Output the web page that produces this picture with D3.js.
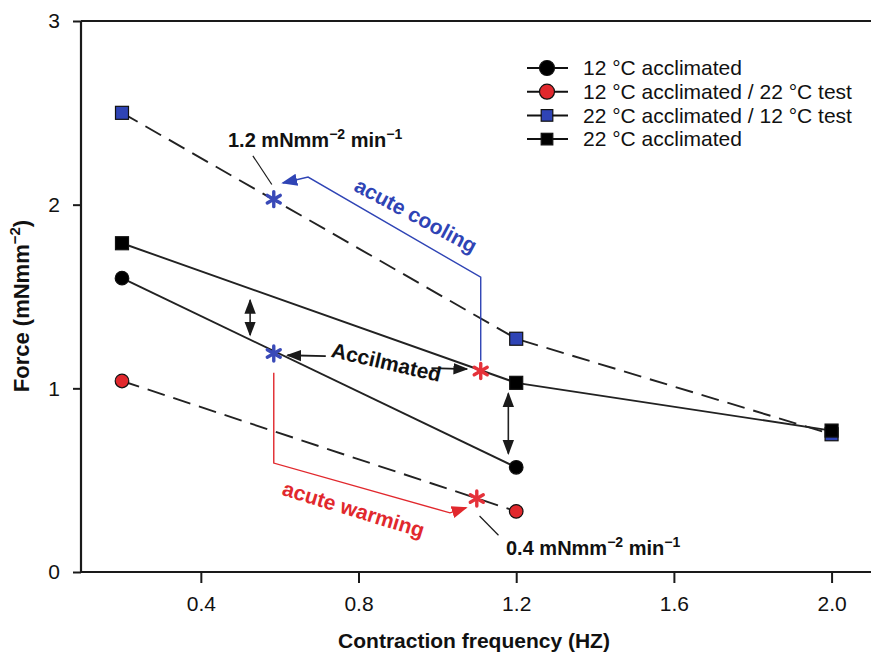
<!DOCTYPE html>
<html>
<head>
<meta charset="utf-8">
<script src="https://cdn.jsdelivr.net/npm/d3@7"></script>
<style>
  html, body { margin: 0; padding: 0; background: #fff; }
  svg { display: block; }
  text { font-family: "Liberation Sans", Arial, Helvetica, sans-serif; }
</style>
</head>
<body>
<svg id="chart" width="871" height="652"></svg>
<script>
// Contraction frequencies (Hz)
const freq = [0.2, 1.2, 2.0];

// Force (mN mm^-2) for each treatment group
const seriesNames = [
  "12 °C acclimated",
  "12 °C acclimated / 22 °C test",
  "22 °C acclimated / 12 °C test",
  "22 °C acclimated"
];
const accl12 = [1.60, 0.57];
const accl12test22 = [1.04, 0.33];
const accl22test12 = [2.50, 1.27, 0.75];
const accl22 = [1.79, 1.03, 0.77];

// Interpolated force at the rate comparison points (asterisks)
const starFreq = [0.585, 0.585, 1.11, 1.10];
const starForce = [2.03, 1.19, 1.094, 0.40];
const starColor = ["blue", "blue", "red", "red"];

// Axis ticks
const xTicks = [0.4, 0.8, 1.2, 1.6, 2.0];
const yTicks = [0, 1, 2, 3];

const BLUE = "#2f44b5";
const RED = "#e1282d";
const INK = "#1a1a1a";

const svg = d3.select("#chart");
const x = d3.scaleLinear().domain([0.096, 2.1]).range([81, 871]);
const y = d3.scaleLinear().domain([0, 3]).range([572, 21]);

// markers for arrows
const defs = svg.append("defs");
function arrowMarker(id, color, size) {
  defs.append("marker")
    .attr("id", id)
    .attr("viewBox", "0 0 10 10")
    .attr("refX", 9).attr("refY", 5)
    .attr("markerWidth", size).attr("markerHeight", size)
    .attr("markerUnits", "userSpaceOnUse")
    .attr("orient", "auto-start-reverse")
    .append("path")
    .attr("d", "M0,1.2 L10,5 L0,8.8 Z")
    .attr("fill", color);
}
arrowMarker("ah-black", INK, 15);
arrowMarker("ah-blue", BLUE, 16);
arrowMarker("ah-red", RED, 16);

// frame: top rule, left axis, bottom axis
svg.append("line").attr("x1", 81).attr("x2", 871).attr("y1", y(3)).attr("y2", y(3))
  .attr("stroke", INK).attr("stroke-width", 2.2);

const xAxis = svg.append("g").attr("transform", `translate(0,${y(0)})`)
  .call(d3.axisBottom(x).tickValues(xTicks).tickFormat(d3.format(".1f")).tickSize(11).tickPadding(13));
xAxis.select(".domain").attr("stroke", INK).attr("stroke-width", 2.2).attr("d", `M81,0H871`);
xAxis.selectAll(".tick line").attr("stroke", INK).attr("stroke-width", 2);
xAxis.selectAll(".tick text").attr("font-size", 21).attr("fill", "#111")
  .attr("font-family", "'Liberation Sans', Arial, sans-serif");

const yAxis = svg.append("g").attr("transform", `translate(81,0)`)
  .call(d3.axisLeft(y).tickValues(yTicks).tickFormat(d3.format("d")).tickSize(8).tickPadding(13));
yAxis.select(".domain").attr("stroke", INK).attr("stroke-width", 2.2).attr("d", `M0,${y(3)}V${y(0)}`);
yAxis.selectAll(".tick line").attr("stroke", INK).attr("stroke-width", 2);
yAxis.selectAll(".tick text").attr("font-size", 21).attr("fill", "#111")
  .attr("font-family", "'Liberation Sans', Arial, sans-serif");

// axis titles
svg.append("text")
  .attr("x", 474).attr("y", 648).attr("text-anchor", "middle")
  .attr("font-size", 21).attr("font-weight", "bold").attr("fill", "#111")
  .text("Contraction frequency (HZ)");

const yTitle = svg.append("text")
  .attr("transform", "translate(29,306) rotate(-90)")
  .attr("text-anchor", "middle")
  .attr("font-size", 22).attr("font-weight", "bold").attr("fill", "#111");
yTitle.append("tspan").text("Force (mNmm");
yTitle.append("tspan").attr("font-size", 15).attr("dy", -9).text("−2");
yTitle.append("tspan").attr("dy", 9).text(")");

// series lines
const line = d3.line().x(d => x(d[0])).y(d => y(d[1]));
const series = [
  { vals: accl12, dash: null, shape: "circle", fill: "#000" },
  { vals: accl12test22, dash: "18,9", shape: "circle", fill: RED },
  { vals: accl22test12, dash: "18,9", shape: "square", fill: BLUE },
  { vals: accl22, dash: null, shape: "square", fill: "#000" }
];
series.forEach(s => {
  const pts = s.vals.map((v, i) => [freq[i], v]);
  svg.append("path").datum(pts)
    .attr("d", line).attr("fill", "none")
    .attr("stroke", "#222").attr("stroke-width", 1.9)
    .attr("stroke-dasharray", s.dash);
});

// double-headed comparison arrows
const dbl = [[0.525, 1.48, 1.29], [1.18, 0.972, 0.645]];
dbl.forEach(d => {
  svg.append("line")
    .attr("x1", x(d[0])).attr("x2", x(d[0]))
    .attr("y1", y(d[1])).attr("y2", y(d[2]))
    .attr("stroke", "#222").attr("stroke-width", 1.6)
    .attr("marker-start", "url(#ah-black)").attr("marker-end", "url(#ah-black)");
});

// acute cooling path (red asterisk -> blue asterisk)
const coolPath = [[1.11, 1.15], [1.11, 1.605], [0.672, 2.15], [0.608, 2.118]];
svg.append("path").datum(coolPath)
  .attr("d", line).attr("fill", "none").attr("stroke", BLUE).attr("stroke-width", 1.4)
  .attr("marker-end", "url(#ah-blue)");

// acute warming path (blue asterisk -> red asterisk)
const warmPath = [[0.585, 1.085], [0.585, 0.593], [1.032, 0.322], [1.073, 0.35]];
svg.append("path").datum(warmPath)
  .attr("d", line).attr("fill", "none").attr("stroke", RED).attr("stroke-width", 1.4)
  .attr("marker-end", "url(#ah-red)");

// "Accilmated" pointer arrows
svg.append("line")
  .attr("x1", x(0.717)).attr("y1", y(1.175)).attr("x2", x(0.62)).attr("y2", y(1.18))
  .attr("stroke", INK).attr("stroke-width", 1.8).attr("marker-end", "url(#ah-black)");
svg.append("line")
  .attr("x1", x(0.985)).attr("y1", y(1.11)).attr("x2", x(1.075)).attr("y2", y(1.105))
  .attr("stroke", INK).attr("stroke-width", 1.8).attr("marker-end", "url(#ah-black)");

// leader lines for the rate labels
svg.append("line")
  .attr("x1", x(0.532)).attr("y1", y(2.266)).attr("x2", x(0.58)).attr("y2", y(2.11))
  .attr("stroke", INK).attr("stroke-width", 1.2);
svg.append("line")
  .attr("x1", x(1.107)).attr("y1", y(0.305)).attr("x2", x(1.155)).attr("y2", y(0.2))
  .attr("stroke", INK).attr("stroke-width", 1.2);

// markers on the data points
function drawMarker(g, shape, cx, cy, fill, r) {
  if (shape === "circle") {
    g.append("circle").attr("cx", cx).attr("cy", cy).attr("r", r)
      .attr("fill", fill).attr("stroke", "#111").attr("stroke-width", 1.2);
  } else {
    g.append("rect").attr("x", cx - r).attr("y", cy - r).attr("width", 2 * r).attr("height", 2 * r)
      .attr("fill", fill).attr("stroke", "#111").attr("stroke-width", 1.2);
  }
}
const mk = svg.append("g");
// blue squares go under the black squares so both show at 2.0 Hz
[2, 1, 0, 3].forEach(k => {
  const s = series[k];
  s.vals.forEach((v, i) => drawMarker(mk, s.shape, x(freq[i]), y(v), s.fill, s.shape === "circle" ? 6.8 : 6.5));
});

// asterisks
function asterisk(cx, cy, r, color) {
  const g = svg.append("g").attr("transform", `translate(${cx},${cy})`);
  for (let k = 0; k < 3; k++) {
    const a = (Math.PI / 3) * k + Math.PI / 2;
    g.append("line")
      .attr("x1", -r * Math.cos(a)).attr("y1", -r * Math.sin(a))
      .attr("x2", r * Math.cos(a)).attr("y2", r * Math.sin(a))
      .attr("stroke", color).attr("stroke-width", 3.4).attr("stroke-linecap", "round");
  }
}
starFreq.forEach((f, i) => asterisk(x(f), y(starForce[i]), 7.5, starColor[i] === "blue" ? "#3a4ab8" : "#e5323a"));

// rotated annotation labels
function rotText(cx, cy, angle, txt, color) {
  svg.append("text")
    .attr("transform", `translate(${cx},${cy}) rotate(${angle})`)
    .attr("text-anchor", "middle").attr("dominant-baseline", "middle")
    .attr("font-size", 21).attr("font-weight", "bold").attr("fill", color)
    .text(txt);
}
rotText(415, 217, 28, "acute cooling", BLUE);
rotText(386, 364, 13, "Accilmated", "#111");
rotText(353, 511, 17, "acute warming", RED);

// rate labels with superscripts
function rateLabel(xp, yp, value) {
  const t = svg.append("text").attr("x", xp).attr("y", yp)
    .attr("font-size", 20).attr("font-weight", "bold").attr("fill", "#111");
  t.append("tspan").text(value + " mNmm");
  t.append("tspan").attr("font-size", 14).attr("dy", -8).text("−2");
  t.append("tspan").attr("dy", 8).text(" min");
  t.append("tspan").attr("font-size", 14).attr("dy", -8).text("−1");
}
rateLabel(228, 147, "1.2");
rateLabel(506, 555, "0.4");

// legend
const legend = svg.append("g");
const legendShapes = [["circle", "#000"], ["circle", RED], ["square", BLUE], ["square", "#000"]];
seriesNames.forEach((name, i) => {
  const ly = 68 + i * 23.7;
  legend.append("line").attr("x1", 527).attr("x2", 568).attr("y1", ly).attr("y2", ly)
    .attr("stroke", "#111").attr("stroke-width", 2);
  const [shape, fill] = legendShapes[i];
  drawMarker(legend, shape, 547, ly, fill, shape === "circle" ? 7.5 : 5.8);
  legend.append("text").attr("x", 583).attr("y", ly).attr("dy", "0.35em")
    .attr("font-size", 21).attr("fill", "#111").text(name);
});
</script>
</body>
</html>
